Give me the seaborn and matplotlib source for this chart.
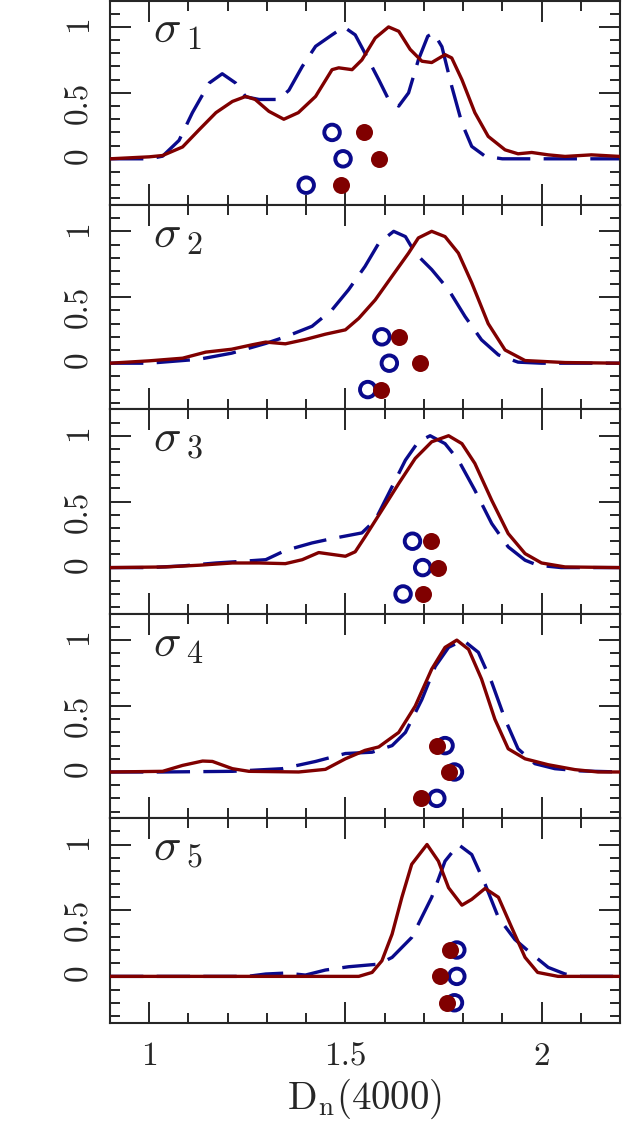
# D_n(4000) distributions in five sigma bins, with points below the curves
import matplotlib
matplotlib.use("Agg")
import matplotlib.pyplot as plt
from matplotlib.ticker import MultipleLocator
import seaborn as sns

BLUE = "#0a0a8c"
RED = "#800000"

# panel 1
b1_x = [0.9, 1.0, 1.034, 1.076, 1.11, 1.153, 1.186, 1.22, 1.246, 1.28, 1.33, 1.356, 1.39, 1.424,
        1.466, 1.496, 1.525, 1.55, 1.585, 1.61, 1.636, 1.661, 1.686, 1.71, 1.725, 1.746, 1.771,
        1.797, 1.822, 1.856, 1.9, 2.2]
b1_y = [0, 0, 0.02, 0.14, 0.35, 0.575, 0.645, 0.575, 0.47, 0.45, 0.45, 0.52, 0.70, 0.853,
        0.94, 1.0, 0.94, 0.80, 0.60, 0.45, 0.40, 0.50, 0.75, 0.93, 0.955, 0.85, 0.55,
        0.27, 0.094, 0.02, 0, 0]
r1_x = [0.9, 1.0, 1.034, 1.085, 1.127, 1.17, 1.212, 1.246, 1.27, 1.305, 1.343, 1.38, 1.424,
        1.466, 1.483, 1.517, 1.542, 1.576, 1.61, 1.636, 1.665, 1.695, 1.72, 1.754, 1.771,
        1.797, 1.83, 1.864, 1.907, 1.94, 1.975, 2.017, 2.06, 2.127, 2.2]
r1_y = [0, 0.015, 0.025, 0.09, 0.22, 0.35, 0.435, 0.473, 0.45, 0.36, 0.30, 0.35, 0.473,
        0.676, 0.69, 0.676, 0.75, 0.916, 1.0, 0.967, 0.83, 0.74, 0.73, 0.79, 0.765,
        0.60, 0.35, 0.17, 0.068, 0.038, 0.048, 0.03, 0.018, 0.03, 0.018]

# panel 2
b2_x = [0.9, 1.0, 1.127, 1.21, 1.297, 1.347, 1.415, 1.466, 1.508, 1.55, 1.585, 1.623, 1.653,
        1.678, 1.72, 1.763, 1.805, 1.847, 1.89, 1.94, 2.0, 2.2]
b2_y = [0, 0, 0.03, 0.076, 0.15, 0.2, 0.28, 0.405, 0.557, 0.734, 0.91, 1.0, 0.96,
        0.835, 0.71, 0.557, 0.354, 0.177, 0.063, 0.008, 0, 0]
r2_x = [0.9, 1.0, 1.085, 1.144, 1.21, 1.263, 1.297, 1.347, 1.398, 1.449, 1.5, 1.534, 1.576,
        1.619, 1.661, 1.686, 1.72, 1.754, 1.788, 1.822, 1.864, 1.907, 1.958, 2.06, 2.2]
r2_y = [0, 0.018, 0.038, 0.084, 0.106, 0.14, 0.16, 0.147, 0.18, 0.22, 0.253, 0.34, 0.48,
        0.66, 0.835, 0.95, 1.0, 0.96, 0.835, 0.61, 0.30, 0.10, 0.02, 0.005, 0]

# panel 3
b3_x = [0.9, 1.0, 1.085, 1.17, 1.229, 1.297, 1.347, 1.415, 1.466, 1.542, 1.576, 1.61, 1.653,
        1.686, 1.716, 1.754, 1.788, 1.83, 1.873, 1.915, 1.958, 1.99, 2.05, 2.2]
b3_y = [0, 0, 0.013, 0.035, 0.046, 0.06, 0.13, 0.187, 0.22, 0.263, 0.36, 0.56, 0.815,
        0.955, 1.0, 0.94, 0.815, 0.587, 0.334, 0.157, 0.056, 0.018, 0, 0]
r3_x = [0.9, 1.042, 1.127, 1.212, 1.28, 1.347, 1.39, 1.432, 1.466, 1.5, 1.525, 1.55, 1.593,
        1.636, 1.678, 1.72, 1.763, 1.797, 1.83, 1.873, 1.915, 1.958, 2.0, 2.06, 2.2]
r3_y = [0, 0.005, 0.018, 0.035, 0.035, 0.03, 0.06, 0.114, 0.10, 0.086, 0.12, 0.233, 0.435,
        0.638, 0.828, 0.954, 1.0, 0.94, 0.79, 0.51, 0.258, 0.106, 0.035, 0.005, 0]

# panel 4
b4_x = [0.9, 1.034, 1.212, 1.339, 1.424, 1.5, 1.568, 1.619, 1.653, 1.695, 1.729, 1.763, 1.8,
        1.839, 1.873, 1.907, 1.94, 1.983, 2.034, 2.1, 2.2]
b4_y = [0, 0, 0.005, 0.025, 0.08, 0.14, 0.15, 0.2, 0.30, 0.55, 0.80, 0.945, 1.0,
        0.907, 0.68, 0.40, 0.176, 0.063, 0.025, 0.008, 0]
r4_x = [0.9, 1.034, 1.085, 1.136, 1.161, 1.212, 1.254, 1.381, 1.449, 1.5, 1.55, 1.585, 1.636,
        1.678, 1.72, 1.754, 1.784, 1.814, 1.847, 1.881, 1.915, 1.958, 2.017, 2.085, 2.144, 2.2]
r4_y = [0, 0.005, 0.05, 0.083, 0.08, 0.025, 0.005, 0, 0.02, 0.10, 0.164, 0.19, 0.30,
        0.50, 0.78, 0.945, 1.0, 0.93, 0.705, 0.40, 0.176, 0.10, 0.055, 0.018, 0, 0]

# panel 5
b5_x = [0.9, 1.25, 1.297, 1.347, 1.398, 1.449, 1.508, 1.585, 1.619, 1.669, 1.72, 1.754, 1.788,
        1.822, 1.856, 1.89, 1.932, 1.975, 2.017, 2.06, 2.1, 2.2]
b5_y = [0, 0, 0.018, 0.025, 0.01, 0.048, 0.073, 0.093, 0.144, 0.295, 0.60, 0.874, 1.0,
        0.924, 0.70, 0.446, 0.28, 0.17, 0.068, 0.018, 0, 0]
r5_x = [0.9, 1.534, 1.568, 1.593, 1.619, 1.644, 1.669, 1.708, 1.737, 1.763, 1.797, 1.822,
        1.856, 1.89, 1.924, 1.958, 1.99, 2.042, 2.2]
r5_y = [0, 0, 0.03, 0.118, 0.32, 0.60, 0.85, 1.0, 0.874, 0.672, 0.54, 0.584,
        0.667, 0.60, 0.37, 0.144, 0.03, 0, 0]

# points under the curves (same three y levels in each panel)
pts_y = [0.2, 0.0, -0.2]
blue_pts = [[1.466, 1.494, 1.40], [1.593, 1.612, 1.557], [1.671, 1.697, 1.647],
            [1.754, 1.778, 1.733], [1.784, 1.784, 1.778]]
red_pts = [[1.548, 1.586, 1.489], [1.637, 1.69, 1.592], [1.718, 1.737, 1.699],
           [1.733, 1.763, 1.693], [1.767, 1.74, 1.758]]

panel_labels = [r"$\sigma_{\;1}$", r"$\sigma_{\;2}$", r"$\sigma_{\;3}$", r"$\sigma_{\;4}$", r"$\sigma_{\;5}$"]
blue_curves = [(b1_x, b1_y), (b2_x, b2_y), (b3_x, b3_y), (b4_x, b4_y), (b5_x, b5_y)]
red_curves = [(r1_x, r1_y), (r2_x, r2_y), (r3_x, r3_y), (r4_x, r4_y), (r5_x, r5_y)]

sns.set_style("ticks")
plt.rcParams["font.family"] = ["cmr10", "DejaVu Serif"]
plt.rcParams["mathtext.fontset"] = "cm"
plt.rcParams["axes.formatter.use_mathtext"] = True
plt.rcParams["axes.linewidth"] = 1.5

fig, axes = plt.subplots(5, 1, figsize=(6.23, 11.33), dpi=100, sharex=True)
fig.subplots_adjust(left=0.1766, right=0.9952, top=0.9995, bottom=0.0975, hspace=0)

for i, ax in enumerate(axes):
    bx, by = blue_curves[i]
    rx, ry = red_curves[i]
    sns.lineplot(x=bx, y=by, ax=ax, color=BLUE, linewidth=2.4, linestyle=(0, (10, 4)),
                 sort=False, estimator=None, zorder=2)
    sns.lineplot(x=rx, y=ry, ax=ax, color=RED, linewidth=2.4,
                 sort=False, estimator=None, zorder=3)
    for ln in ax.lines:
        ln.set_solid_joinstyle("round")
        ln.set_dash_joinstyle("round")
    sns.scatterplot(x=blue_pts[i], y=pts_y, ax=ax, marker="o", s=125, color=BLUE,
                    linewidth=2.8, zorder=4)
    ax.collections[-1].set_facecolor("none")
    ax.collections[-1].set_edgecolor(BLUE)
    sns.scatterplot(x=red_pts[i], y=pts_y, ax=ax, marker="o", s=150, color=RED,
                    linewidth=0, zorder=5)

    ax.set_xlim(0.9, 2.2)
    ax.set_ylim(-0.35, 1.2)
    ax.set_yticks([0, 0.5, 1])
    ax.set_yticklabels(["0", "0.5", "1"])
    ax.yaxis.set_minor_locator(MultipleLocator(0.1))
    ax.xaxis.set_minor_locator(MultipleLocator(0.1))
    ax.tick_params(which="both", direction="in", top=True, right=True, width=1.4)
    ax.tick_params(which="major", length=15)
    ax.tick_params(which="minor", length=7.5)
    ax.tick_params(axis="y", labelsize=24, labelrotation=90, pad=12)
    ax.tick_params(axis="x", labelsize=24, pad=14)
    ax.set_ylabel("")
    ax.text(0.085, 0.95, panel_labels[i], transform=ax.transAxes, fontsize=33,
            ha="left", va="top")

axes[-1].set_xticks([1, 1.5, 2])
axes[-1].set_xticklabels(["1", "1.5", "2"])
axes[-1].set_xlabel(r"D$_{\rm n}$(4000)", fontsize=28, labelpad=4)

plt.savefig("out.png", dpi=100)
